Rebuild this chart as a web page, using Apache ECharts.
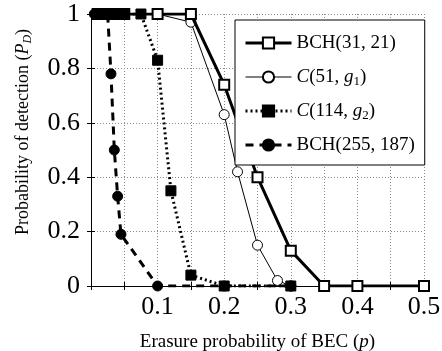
<!DOCTYPE html>
<html>
<head>
<meta charset="utf-8">
<script src="https://cdn.jsdelivr.net/npm/echarts@6/dist/echarts.min.js"></script>
<style>
  html, body { margin: 0; padding: 0; background: #fff; }
  #container { width: 442px; height: 351px; }
</style>
</head>
<body>
<div id="container"></div>
<script>
// x values (erasure probability p) and P_D values per code
const bch31X = [0.01, 0.02, 0.03, 0.04, 0.05, 0.1, 0.15, 0.2, 0.25, 0.3, 0.35, 0.4, 0.5]
const bch31Y = [1, 1, 1, 1, 1, 1, 1, 0.74, 0.4, 0.13, 0, 0, 0]

const c51X = [0.01, 0.02, 0.03, 0.04, 0.05, 0.1, 0.15, 0.2, 0.22, 0.25, 0.28, 0.3]
const c51Y = [1, 1, 1, 1, 1, 1, 0.97, 0.63, 0.42, 0.15, 0.02, 0]

const c114X = [0.01, 0.02, 0.03, 0.04, 0.05, 0.075, 0.1, 0.12, 0.15, 0.2, 0.3]
const c114Y = [1, 1, 1, 1, 1, 1, 0.83, 0.35, 0.04, 0, 0]

const bch255X = [0.005, 0.01, 0.015, 0.02, 0.025, 0.03, 0.035, 0.04, 0.045, 0.1, 0.2, 0.3]
const bch255Y = [1, 1, 1, 1, 1, 0.78, 0.5, 0.33, 0.19, 0, 0, 0]

const seriesNames = ['BCH(31, 21)', 'C(51, g1)', 'C(114, g2)', 'BCH(255, 187)']
const xTickLabels = ['0.1', '0.2', '0.3', '0.4', '0.5']

const zip = (xs, ys) => xs.map((x, i) => [x, ys[i]])

const serif = '"Liberation Serif", "DejaVu Serif", serif'

// rich text pieces for italic math and subscripts
const mathRich = (size) => ({
  it: { fontFamily: serif, fontSize: size, fontStyle: 'italic', color: '#000', lineHeight: 22 },
  sub: { fontFamily: serif, fontSize: Math.round(size * 0.68), color: '#000', lineHeight: 12, verticalAlign: 'bottom' },
  subIt: { fontFamily: serif, fontSize: Math.round(size * 0.68), fontStyle: 'italic', color: '#000', lineHeight: 12, verticalAlign: 'bottom' },
})

const myChart = echarts.init(document.getElementById('container'))

const frameAxis = {
  min: 0,
  axisLine: { show: true, lineStyle: { color: '#000', width: 1 } },
  axisTick: { show: true, inside: true, length: 4, lineStyle: { color: '#000' } },
}

myChart.setOption({
  animation: false,
  grid: {
    left: 91,
    right: 18,
    top: 14,
    bottom: 65,
    outerBoundsMode: 'none',
  },
  legend: {
    orient: 'vertical',
    left: 235,
    top: 20,
    padding: [12, 10, 9, 9],
    itemGap: 12,
    itemWidth: 46,
    itemHeight: 14,
    backgroundColor: '#fff',
    borderColor: '#000',
    borderWidth: 1,
    borderRadius: 0,
    z: 10,
    data: [
      { name: seriesNames[0], lineStyle: { width: 3 } },
      { name: seriesNames[1], lineStyle: { width: 1 } },
      { name: seriesNames[2], lineStyle: { width: 3 } },
      { name: seriesNames[3], lineStyle: { width: 3 } },
    ],
    formatter: (name) => {
      if (name === 'C(51, g1)') return '{it|C}(51, {it|g}{sub|1})'
      if (name === 'C(114, g2)') return '{it|C}(114, {it|g}{sub|2})'
      return name
    },
    textStyle: {
      fontFamily: serif,
      fontSize: 19,
      lineHeight: 22,
      color: '#000',
      rich: mathRich(19),
    },
  },
  xAxis: [
    Object.assign({}, frameAxis, {
      type: 'value',
      position: 'bottom',
      max: 0.5,
      interval: 0.05,
      name: 'Erasure probability of BEC ({it|p})',
      nameLocation: 'middle',
      nameGap: 45,
      nameTextStyle: {
        fontFamily: serif,
        fontSize: 19,
        lineHeight: 22,
        color: '#000',
        rich: mathRich(19),
      },
      axisLabel: {
        margin: 8,
        fontFamily: serif,
        fontSize: 26,
        color: '#000',
        formatter: (v) => {
          const k = Math.round(v * 20)
          return k > 0 && k % 2 === 0 ? xTickLabels[k / 2 - 1] : ''
        },
      },
      splitLine: { show: true, lineStyle: { color: '#888', type: [1, 2], width: 1 } },
    }),
    Object.assign({}, frameAxis, {
      type: 'value',
      position: 'top',
      max: 0.5,
      interval: 0.05,
      axisLabel: { show: false },
      splitLine: { show: false },
    }),
  ],
  yAxis: [
    Object.assign({}, frameAxis, {
      type: 'value',
      position: 'left',
      max: 1,
      interval: 0.2,
      name: 'Probability of detection ({it|P}{subIt|D})',
      nameLocation: 'middle',
      nameGap: 57,
      nameTextStyle: {
        fontFamily: serif,
        fontSize: 18,
        lineHeight: 22,
        color: '#000',
        padding: [0, 0, 0, 36],
        rich: mathRich(18),
      },
      axisLabel: {
        margin: 11,
        fontFamily: serif,
        fontSize: 26,
        color: '#000',
      },
      splitLine: { show: true, lineStyle: { color: '#888', type: [1, 2], width: 1 } },
    }),
    Object.assign({}, frameAxis, {
      type: 'value',
      position: 'right',
      max: 1,
      interval: 0.2,
      axisLabel: { show: false },
      splitLine: { show: false },
    }),
  ],
  // filled markers sit on top so the crowded p < 0.06 run reads as solid black
  series: [
    {
      name: seriesNames[1],
      type: 'line',
      z: 2,
      data: zip(c51X, c51Y),
      symbol: 'circle',
      symbolSize: 10,
      lineStyle: { color: '#000', width: 1 },
      itemStyle: { color: '#fff', borderColor: '#000', borderWidth: 1 },
    },
    {
      name: seriesNames[0],
      type: 'line',
      z: 3,
      data: zip(bch31X, bch31Y),
      symbol: 'rect',
      symbolSize: 10,
      lineStyle: { color: '#000', width: 3 },
      itemStyle: { color: '#fff', borderColor: '#000', borderWidth: 2 },
    },
    {
      name: seriesNames[2],
      type: 'line',
      z: 4,
      data: zip(c114X, c114Y),
      symbol: 'rect',
      symbolSize: 10,
      lineStyle: { color: '#000', width: 3, type: [2, 3] },
      itemStyle: { color: '#000', borderColor: '#000', borderWidth: 1 },
    },
    {
      name: seriesNames[3],
      type: 'line',
      z: 5,
      data: zip(bch255X, bch255Y),
      symbol: 'circle',
      symbolSize: 10,
      lineStyle: { color: '#000', width: 3, type: [8, 6] },
      itemStyle: { color: '#000', borderColor: '#000', borderWidth: 1 },
    },
  ],
})
</script>
</body>
</html>
